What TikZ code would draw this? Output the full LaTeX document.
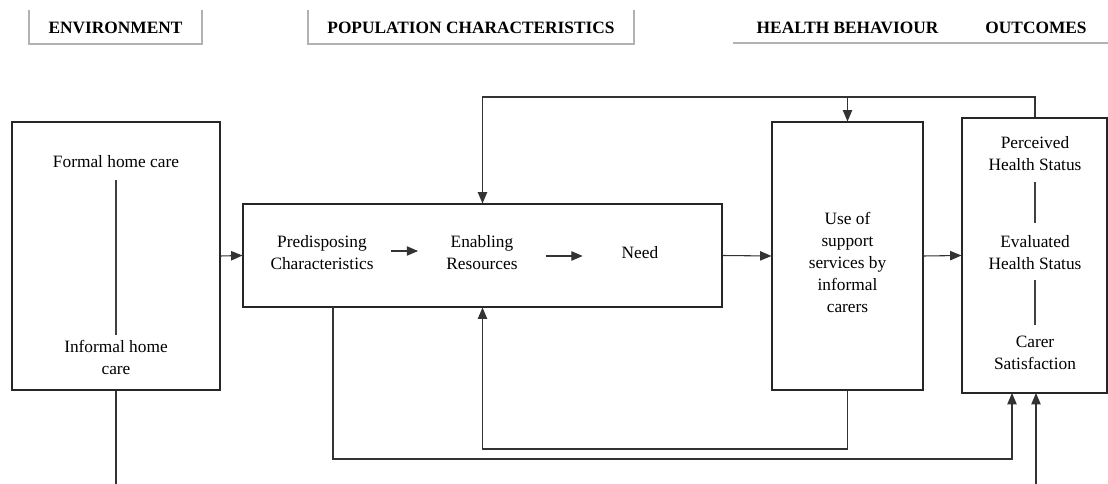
\documentclass[tikz,border=0pt]{standalone}
\usepackage{fontspec}
\setmainfont{Liberation Serif}
\usetikzlibrary{arrows.meta}
\begin{document}
\begin{tikzpicture}[x=0.75pt,y=-0.75pt,
  box/.style={draw=black!85,line width=0.8pt,rectangle,inner sep=0pt},
  txt/.style={inner sep=0pt,align=center,font=\fontsize{13pt}{16.5pt}\selectfont},
  head/.style={inner sep=0pt,font=\fontsize{13pt}{15pt}\selectfont\bfseries},
  hline/.style={draw=black!30,line width=0.8pt},
  conn/.style={draw=black!80,line width=0.8pt},
  arr/.style={conn,-{Triangle[length=8.5pt,width=7pt]}},
  vline/.style={draw=black!75,line width=0.8pt}]
\useasboundingbox (0,0) rectangle (1108,484);

% headers
\node[head] (hEnv) at (115.5,28) {ENVIRONMENT};
\node[head] (hPop) at (471,28) {POPULATION CHARACTERISTICS};
\node[head] (hBeh) at (847.5,28) {HEALTH BEHAVIOUR};
\node[head] (hOut) at (1036,28) {OUTCOMES};
\draw[hline] (29,10) -- (29,44) -- (202,44) -- (202,10);
\draw[hline] (308,10) -- (308,44) -- (634,44) -- (634,10);
\draw[hline] (733,43) -- (1108,43);

% main boxes
\node[box,minimum width=156pt,minimum height=201pt] (env) at (116,256) {};
\node[box,minimum width=359.25pt,minimum height=77.25pt] (pop) at (482.5,255.5) {};
\node[box,minimum width=113.25pt,minimum height=201pt] (use) at (847.5,256) {};
\node[box,minimum width=108.75pt,minimum height=206.25pt] (out) at (1034.5,255.5) {};

% environment texts
\node[txt] (fhc) at (116,162) {Formal home care};
\node[txt] (ihc) at (116,357) {Informal home\\care};
\draw[vline] ([yshift=-13.5pt]fhc.center) -- ([yshift=16.5pt]ihc.center);

% population texts
\node[txt] (pre) at (322,253) {Predisposing\\Characteristics};
\node[txt] (enb) at (482,253) {Enabling\\Resources};
\node[txt] (need) at (640,253) {Need};
\draw[arr,shorten <=13pt,shorten >=21pt] ([yshift=1.5pt]pre.east) -- ([yshift=1.5pt]enb.west);
\draw[arr,shorten <=21pt,shorten >=29pt] ([yshift=-2.25pt]enb.east) -- ([yshift=-2.25pt]need.west);

% use text
\node[txt] (usetxt) at (847.5,262) {Use of\\support\\services by\\informal\\carers};

% outcome texts
\node[txt] (phs) at (1035,153.5) {Perceived\\Health Status};
\node[txt] (ehs) at (1035,252.5) {Evaluated\\Health Status};
\node[txt] (cs) at (1035,353) {Carer\\Satisfaction};
\draw[vline] ([yshift=-21.4pt]phs.center) -- ([yshift=22.1pt]ehs.center);
\draw[vline] ([yshift=-20.6pt]ehs.center) -- ([yshift=21pt]cs.center);

% main flow
\draw[arr] (env.east) -- (pop.west);
\draw[arr] (pop.east) -- (use.west);
\draw[arr] (use.east) -- (out.west);

% top feedback
\coordinate (tR) at (1035,97);
\coordinate (tL) at (482.5,97);
\draw[arr] (out.north -| tR) -- (tR) -- (tL) -- (pop.north);
\draw[arr] (use.north |- tR) -- (use.north);

% bottom inner feedback
\coordinate (biR) at (847.5,449);
\coordinate (biL) at (482.5,449);
\draw[arr] (use.south) -- (biR) -- (biL) -- (pop.south);

% bottom outer feedback
\coordinate (boS) at (333,307);
\coordinate (boL) at (333,459);
\coordinate (boR) at (1012,459);
\coordinate (boT) at (1012,393);
\draw[arr] (boS) -- (boL) -- (boR) -- (boT);

% lines leaving the picture
\coordinate (envEnd) at (116,484);
\draw[conn] (env.south) -- (envEnd);
\coordinate (inStart) at (1036,484);
\coordinate (inEnd) at (1036,393);
\draw[arr] (inStart) -- (inEnd);
\end{tikzpicture}
\end{document}
